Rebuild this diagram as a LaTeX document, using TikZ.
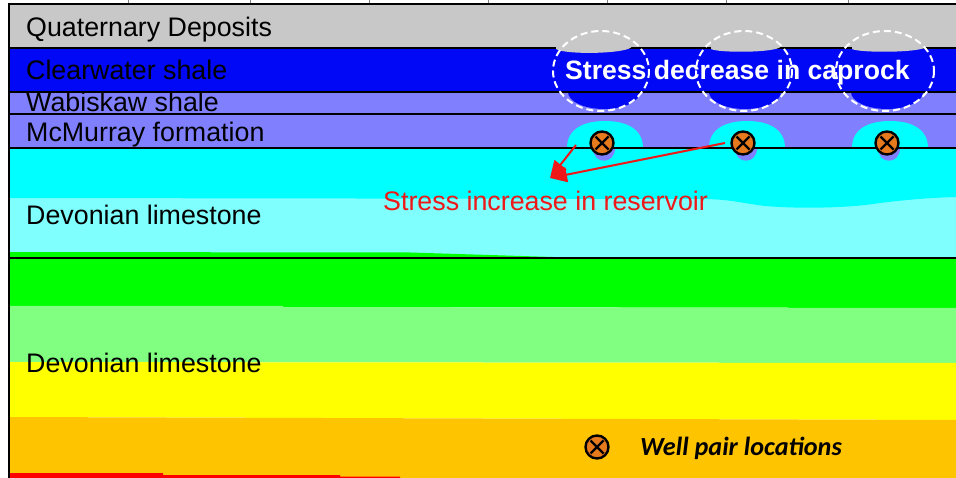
\documentclass[tikz,border=0pt]{standalone}
\usepackage{fontspec}
\setmainfont{Liberation Sans}
\newfontfamily\carlito{Carlito}
\usetikzlibrary{arrows.meta}

% layer colours
\definecolor{quat}{RGB}{200,200,200}
\definecolor{clw}{RGB}{0,8,245}
\definecolor{wab}{RGB}{128,128,255}
\definecolor{res}{RGB}{0,255,255}
\definecolor{lres}{RGB}{128,255,255}
\definecolor{grn}{RGB}{0,255,0}
\definecolor{lgrn}{RGB}{128,255,128}
\definecolor{ylw}{RGB}{255,255,0}
\definecolor{org}{RGB}{255,196,0}
\definecolor{deep}{RGB}{255,0,0}
\definecolor{wellc}{RGB}{232,122,30}
\definecolor{arrowred}{RGB}{238,24,24}

\tikzset{
  lbl/.style={anchor=base west, inner sep=0pt, font=\fontsize{26.8}{30}\selectfont},
  bound/.style={line width=2pt, black},
  well/.style={circle, draw=black, line width=2.4pt, fill=wellc,
    minimum size=23pt, inner sep=0pt,
    path picture={
      \draw[line width=2.2pt]
        ([shift={(-6.5pt,-6.5pt)}]path picture bounding box.center) --
        ([shift={(6.5pt,6.5pt)}]path picture bounding box.center)
        ([shift={(-6.5pt,6.5pt)}]path picture bounding box.center) --
        ([shift={(6.5pt,-6.5pt)}]path picture bounding box.center);}},
  zone/.style={draw=white, dashed, dash pattern=on 7pt off 4pt, line width=2pt},
  stressarrow/.style={draw=arrowred, line width=2pt,
    -{Triangle[length=17pt,width=15pt]}},
}

\begin{document}
\begin{tikzpicture}[x=1pt,y=-1pt]
\useasboundingbox (0,0) rectangle (956,478);
\fill[white] (0,0) rectangle (956,478);

% ---- strata ----
\fill[quat] (9,4) rectangle (956,48);
\fill[clw]  (9,48) rectangle (956,92);
\fill[wab]  (9,92) rectangle (956,148);
\fill[lres] (9,148) rectangle (956,258);
\fill[res] (9,148) -- (956,148) -- (956,197)
  .. controls (925,198) and (905,200) .. (880,203)
  .. controls (850,208) and (800,209) .. (765,206)
  .. controls (740,203) and (730,199) .. (700,199)
  -- (9,198) -- cycle;
\fill[grn] (9,252) -- (410,252.5) -- (585,258) -- (956,258) -- (956,308)
  -- (283,307) -- (283,306) -- (9,306) -- cycle;
\fill[lgrn] (9,306) -- (283,306) -- (283,307) -- (956,308) -- (956,363) -- (9,362) -- cycle;
\fill[ylw] (9,362) -- (956,363) -- (956,420) -- (9,417) -- cycle;
\fill[org] (9,417) -- (956,420) -- (956,478) -- (9,478) -- cycle;
\fill[deep] (9,473) -- (163,473) -- (163,475) -- (340,475) -- (340,476.5)
  -- (400,476.5) -- (400,478) -- (9,478) -- cycle;

% ---- caprock response (blue bulges into the Wabiskaw) ----
\foreach \cx in {604,745,887}{
  \fill[clw] (\cx-36,92) arc[start angle=180, end angle=0, x radius=36, y radius=17];
}

% ---- steam chambers around the well pairs ----
\foreach \cx in {605,747,890}{
  \fill[res] (\cx-38,148) .. controls (\cx-38,128) and (\cx-20,121) .. (\cx,121)
    .. controls (\cx+20,121) and (\cx+38,128) .. (\cx+38,148) -- cycle;
  \fill[wab] (\cx-12,148) .. controls (\cx-12,165) and (\cx+10,165) .. (\cx+10,148) -- cycle;
}

% ---- boundaries ----
\draw[bound] (9,4) -- (956,4);
\foreach \y in {48,92,114,148,258}{ \draw[bound] (9,\y) -- (956,\y); }
\foreach \x in {128,250,369,488,607,726,848}{ \draw[gray, line width=0.6pt] (\x,0) -- (\x,3); }
\draw[line width=2.5pt, black] (9,3) -- (9,478);

% gray caps left in the Clearwater top
\fill[quat] (556,46.5) -- (632,46.5) .. controls (628,54) and (565,55) .. (556,49) -- cycle;
\fill[quat] (711,46.5) -- (781,46.5) .. controls (776,53) and (718,53) .. (711,49) -- cycle;
\fill[quat] (852,46.5) -- (927,46.5) .. controls (922,53) and (859,53) .. (852,49) -- cycle;

% ---- zones of stress decrease ----
\draw[zone] (601,71) ellipse[x radius=48, y radius=40];
\draw[zone] (744,71) ellipse[x radius=48, y radius=40];
\draw[zone] (885,71) ellipse[x radius=49, y radius=40];

% ---- labels ----
\node[lbl] (quatlbl) at (26,37) {Quaternary Deposits};
\node[lbl] (clwlbl) at (26,80) {Clearwater shale};
\node[lbl] (wablbl) at (26,112) {Wabiskaw shale};
\node[lbl] (mcmlbl) at (26,142) {McMurray formation};
\node[lbl] (dev1lbl) at (26,225) {Devonian limestone};
\node[lbl] (dev2lbl) at (26,372) {Devonian limestone};
\node[lbl, font=\bfseries\fontsize{26.6}{30}\selectfont, text=white] (declbl) at (565,80) {Stress decrease in caprock};
\node[lbl, text=arrowred] (inclbl) at (383,211) {Stress increase in reservoir};

% ---- well pairs ----
\node[well] (w1) at (602,143) {};
\node[well] (w2) at (743,143) {};
\node[well] (w3) at (887,143) {};

% ---- arrows to the stress increase ----
\coordinate (s1) at (576,145);
\coordinate (s2) at (725,143);
\coordinate (tip) at (550,178);
\draw[stressarrow] (s1) -- (tip);
\draw[stressarrow] (s2) -- (tip);

% ---- legend ----
\node[well] (wl) at (597,447) {};
\node[anchor=base west, inner sep=0pt, font=\carlito\bfseries\itshape\fontsize{26.2}{30}\selectfont] (legend) at (640,455) {Well pair locations};
\end{tikzpicture}
\end{document}
